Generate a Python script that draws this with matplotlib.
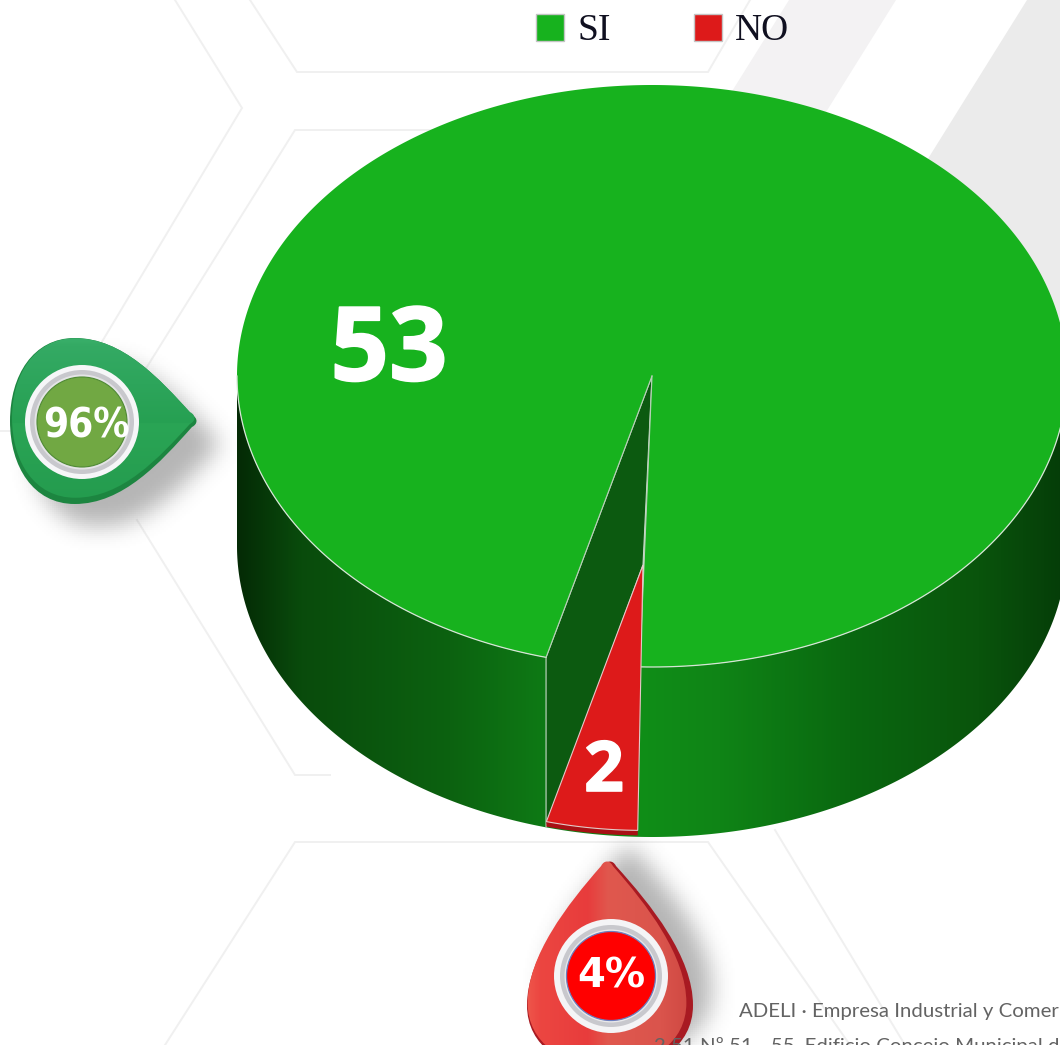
import numpy as np
import matplotlib
matplotlib.use("Agg")
import matplotlib.pyplot as plt
import matplotlib.patheffects as pe
from matplotlib.path import Path
from matplotlib.patches import PathPatch, Polygon, Circle, Rectangle

# ---- data ----
categories = ["SI", "NO"]
values = [53, 2]
value_labels = ["53", "2"]
percent_labels = ["96%", "4%"]
colors = ["#17b21e", "#dd1a1a"]
footer_lines = ["ADELI · Empresa Industrial y Comer",
                "2 51 Nº 51 - 55. Edificio Concejo Municipal d"]

# ---- layout ----
W, H = 1060, 1045
CX, CY, RX, RY, DEPTH = 652, 376, 415, 291, 170
START = 91.7  # degrees, screen clockwise from +x
RED_DX, RED_DY, RED_SCALE = -9, 189, 0.912
RED_WIDEN = 0.9

fig = plt.figure(figsize=(W / 100, H / 100), dpi=100, facecolor="white")
ax = fig.add_axes([0, 0, 1, 1])
ax.axis("off")


def pt(t, cx=CX, cy=CY, scale=1.0):
    a = np.radians(t)
    return np.column_stack([cx + RX * scale * np.cos(a), cy + RY * scale * np.sin(a)])


def gradient_image(stops_pos, stops_rgb, horizontal=True, n=400):
    pos = np.linspace(stops_pos[0], stops_pos[-1], n)
    rgb = np.array(stops_rgb) / 255.0
    col = np.column_stack([np.interp(pos, stops_pos, rgb[:, i]) for i in range(3)])
    return col[None, :, :] if horizontal else col[:, None, :]


def fill_gradient(path, extent, stops_pos, stops_rgb, horizontal=True, z=2):
    img = gradient_image(stops_pos, stops_rgb, horizontal)
    im = ax.imshow(img, extent=extent, aspect="auto", origin="upper", zorder=z,
                   interpolation="bilinear")
    patch = PathPatch(path, transform=ax.transData, fc="none", ec="none")
    ax.add_patch(patch)
    im.set_clip_path(patch)


def drop_path(cx, cy, R, L, angle, ky=1.0):
    v = np.array([
        (L - 3, -6), (L * 0.66, -R * 0.5), (R * 0.36, -R), (-R * 0.22, -R),
        (-R * 0.72, -R), (-R, -R * 0.55), (-R, 0),
        (-R, R * 0.55), (-R * 0.72, R), (-R * 0.22, R),
        (R * 0.36, R), (L * 0.66, R * 0.5), (L - 3, 6),
        (L + 3, 3), (L + 3, -3), (L - 3, -6), (L - 3, -6)], float)
    v[:, 1] *= ky
    a = np.radians(angle)
    c, s = np.cos(a), np.sin(a)
    x = cx + v[:, 0] * c - v[:, 1] * s
    y = cy + v[:, 0] * s + v[:, 1] * c
    codes = [Path.MOVETO] + [Path.CURVE4] * 15 + [Path.CLOSEPOLY]
    return Path(np.column_stack([x, y]), codes)


def blurred_shadow(path, dx, dy, blur, strength, z=1.5):
    x0, x1 = path.vertices[:, 0].min() - 60, path.vertices[:, 0].max() + 60
    y0, y1 = path.vertices[:, 1].min() - 60, path.vertices[:, 1].max() + 60
    xs = np.arange(x0, x1, 2.0)
    ys = np.arange(y0, y1, 2.0)
    gx, gy = np.meshgrid(xs - dx, ys - dy)
    poly = path.to_polygons(closed_only=True)[0]
    m = Path(poly).contains_points(np.column_stack([gx.ravel(), gy.ravel()]))
    m = m.reshape(gx.shape).astype(float)
    kernel = np.ones(blur) / blur
    for _ in range(3):
        m = np.apply_along_axis(lambda r: np.convolve(r, kernel, "same"), 0, m)
        m = np.apply_along_axis(lambda r: np.convolve(r, kernel, "same"), 1, m)
    rgba = np.zeros(m.shape + (4,))
    rgba[..., :3] = 0.42
    rgba[..., 3] = m * strength
    ax.imshow(rgba, extent=(x0, x1, y1, y0), aspect="auto", origin="upper", zorder=z)


# ---- background decoration ----
band_color_1, band_color_2 = "#f3f2f3", "#ebebeb"
ax.add_patch(Polygon([(789, 0), (896, 0), (640, 410), (533, 410)], fc=band_color_1, ec="none", zorder=0.2))
ax.add_patch(Polygon([(1027, 0), (1060, 0), (1060, 420), (765, 420)], fc=band_color_2, ec="none", zorder=0.2))
hex_lines = [
    [(175, 0), (242, 108), (100, 345)],
    [(250, 0), (297, 72), (708, 72), (750, 0)],
    [(500, 130), (295, 130), (120, 410)],
    [(137, 520), (295, 775), (330, 775)],
    [(165, 1045), (295, 842), (708, 842), (850, 1045)],
    [(775, 830), (905, 1045)],
    [(0, 431), (12, 431)],
]
for ln in hex_lines:
    xs, ys = zip(*ln)
    ax.plot(xs, ys, color="#f0f0f0", lw=1.4, zorder=0.5, solid_joinstyle="miter")

# ---- pie geometry from values ----
sweep = 360.0 * values[1] / sum(values)
t1, t2 = START, START + sweep
tt_front = np.linspace(0, 180, 300)

# side wall
front_top = pt(tt_front)
front_bot = pt(tt_front[::-1], cy=CY + DEPTH)
wall_path = Path(np.vstack([front_top, front_bot, front_top[:1]]), closed=True)
wall_pos = [237, 300, 450, 545, 640, 720, 850, 980, 1067]
wall_rgb = [(4, 42, 5), (9, 75, 12), (12, 98, 16), (14, 122, 21), (16, 142, 24),
            (15, 132, 22), (10, 104, 16), (9, 84, 12), (5, 60, 8)]
fill_gradient(wall_path, (237, 1067, CY + RY + DEPTH + 2, CY - 2), wall_pos, wall_rgb, z=2)

# inner wall and gap
left_top = pt(np.array([t2]))[0]
left_bot = pt(np.array([t2]), cy=CY + DEPTH)[0]
red_cx, red_cy = CX + RED_DX, CY + RED_DY
ax.add_patch(Polygon([(CX, CY), left_top, left_bot, (red_cx, red_cy)],
                     fc="#0c5a10", ec="#c8d8c8", lw=0.8, zorder=3))

# top face (main sector)
tt_main = np.linspace(t2, t1 + 360, 720)
top_pts = np.vstack([[(CX, CY)], pt(tt_main)])
ax.add_patch(Polygon(top_pts, closed=True, fc=colors[0], ec="none", zorder=4))
ax.plot(*pt(np.linspace(t2, 180, 100)).T, color="#d6e6d6", lw=0.9, zorder=4.2)
ax.plot(*pt(np.linspace(0, t1, 100)).T, color="#d6e6d6", lw=0.9, zorder=4.2)
for t in (t1, t2):
    e = pt(np.array([t]))[0]
    ax.plot([CX, e[0]], [CY, e[1]], color="#b8d0b8", lw=0.8, zorder=4.3)

# red slice (sunken)
tt_red = np.linspace(t1 - RED_WIDEN, t2, 40)
red_arc = pt(tt_red, cx=red_cx, cy=red_cy, scale=RED_SCALE)
red_rim = pt(tt_red[::-1], cx=red_cx, cy=red_cy + 5, scale=RED_SCALE)
ax.add_patch(Polygon(np.vstack([red_arc, red_rim]), fc="#a81015", ec="none", zorder=5))
ax.add_patch(Polygon(np.vstack([[(red_cx, red_cy)], red_arc]), fc=colors[1],
                     ec="#e6c8c8", lw=0.8, zorder=5.1))

# value labels
bolder = [pe.withStroke(linewidth=1.2, foreground="white")]
ax.text(389, 354, value_labels[0], color="white", fontsize=74, fontweight="bold",
        family="Open Sans", ha="center", va="center", zorder=6, path_effects=bolder)
ax.text(604, 773, value_labels[1], color="white", fontsize=50, fontweight="bold",
        family="Open Sans", ha="center", va="center", zorder=6, path_effects=bolder)

# legend
legend_x = [536, 694]
for xx, name, col in zip(legend_x, categories, colors):
    ax.add_patch(Rectangle((xx, 14), 28, 27, fc=col, ec="#c4c4c4", lw=1, zorder=6))
    ax.text(xx + 41, 31, name, family="Liberation Serif", fontsize=27, color="#101020",
            ha="left", va="center", zorder=6)

# ---- badges ----
g_path = drop_path(93, 421, 83, 102, 0)
blurred_shadow(g_path, 22, 22, 11, 0.5)
ax.add_patch(PathPatch(g_path, fc="#1c8540", ec="none", zorder=7))
g_inner = drop_path(93, 418, 81, 100, 0, ky=0.985)
fill_gradient(g_inner, (0, 200, 505, 335), [335, 345, 420, 421, 500],
              [(60, 178, 110), (52, 170, 100), (38, 160, 82), (42, 165, 85), (36, 155, 78)],
              horizontal=False, z=7.1)
for r, c in ((57, "#f6f6f8"), (52, "#c8c8cd"), (47.5, "#e4e4e6")):
    ax.add_patch(Circle((82, 422), r, fc=c, ec="none", zorder=7.3))
ax.add_patch(Circle((82, 422), 45, fc="#71a843", ec="#4f8a34", lw=0.8, zorder=7.4))
ax.text(86, 426, percent_labels[0], color="white", fontsize=29, fontweight="bold",
        family="DejaVu Sans", ha="center", va="center", zorder=7.5, stretch="condensed")

r_path = drop_path(610, 987, 83, 124, -90)
blurred_shadow(r_path, 18, -16, 11, 0.5)
ax.add_patch(PathPatch(r_path, fc="#a81a22", ec="none", zorder=7))
r_inner = drop_path(607, 985, 81, 122, -90, ky=0.98)
fill_gradient(r_inner, (520, 695, 1075, 855), [526, 545, 590, 610, 660, 692],
              [(240, 95, 80), (236, 70, 65), (232, 60, 60), (224, 88, 78), (218, 84, 76), (205, 70, 64)],
              z=7.1)
for r, c in ((57, "#f4f4f6"), (51, "#c8c8cd"), (46.5, "#e8e8ea")):
    ax.add_patch(Circle((611, 976), r, fc=c, ec="none", zorder=7.3))
ax.add_patch(Circle((611, 976), 44.5, fc="#ff0000", ec="#6a7fc0", lw=0.9, zorder=7.4))
ax.text(611, 977, percent_labels[1], color="white", fontsize=29, fontweight="bold",
        family="DejaVu Sans", ha="center", va="center", zorder=7.5)

# footer (cut by the picture edge, as in the source page)
ax.text(1059, 1012, footer_lines[0], color="#636363", fontsize=14.7,
        family="Lato", ha="right", va="center", zorder=8)
ax.text(1059, 1046, footer_lines[1], color="#636363", fontsize=14.7,
        family="Lato", ha="right", va="center", zorder=8)

ax.set_xlim(0, W)
ax.set_ylim(H, 0)
fig.savefig("out.png", dpi=100, facecolor="white")
